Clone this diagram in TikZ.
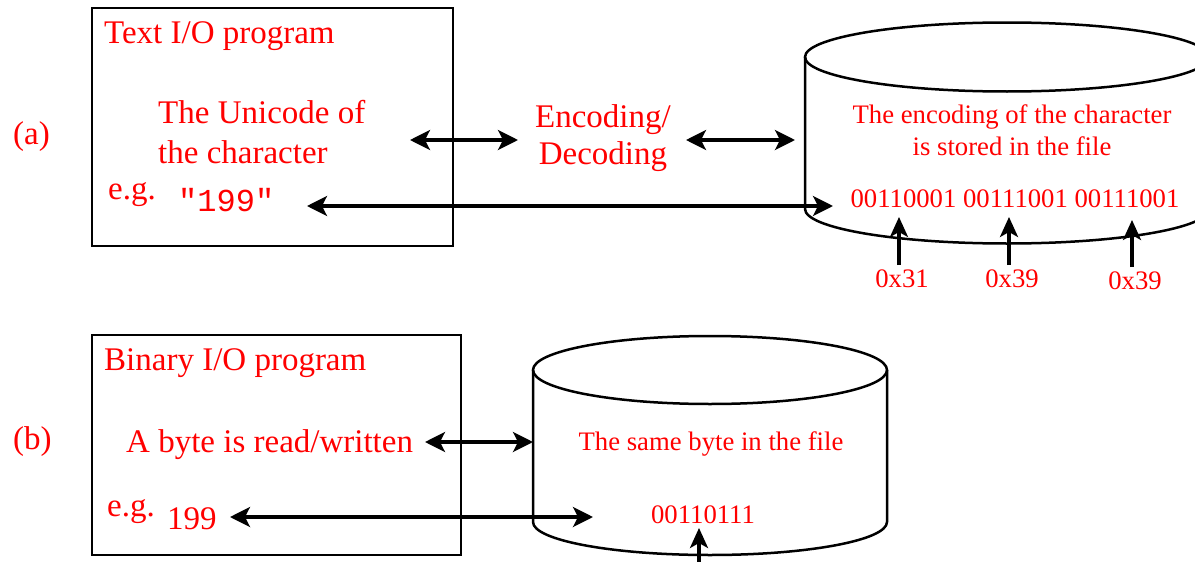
\documentclass[tikz,border=0pt]{standalone}
\usepackage{fontspec}
\setmainfont{Liberation Serif}
\setmonofont{Liberation Mono}
\usepackage{xcolor}
\usetikzlibrary{arrows.meta, positioning}

\tikzset{
  big/.style={text=red, inner sep=0pt, font=\fontsize{33}{40}\selectfont},
  small/.style={text=red, inner sep=0pt, font=\fontsize{26.7}{32}\selectfont},
  prog/.style={draw, line width=2.5pt, inner sep=0pt},
  cyl/.style={line width=2.5pt},
  both/.style={line width=3.2pt, {Stealth[length=20pt,width=20pt,inset=5pt]}-{Stealth[length=20pt,width=20pt,inset=5pt]}},
  up/.style={line width=3.2pt, -{Stealth[length=20pt,width=18pt,inset=5pt]}}
}

\begin{document}
\begin{tikzpicture}[x=1pt,y=-1pt]
\useasboundingbox (0,0) rectangle (1195,562);
\clip (0,0) rectangle (1195,562);
% (a) text I/O
\node[prog, minimum width=361pt, minimum height=238pt] (textbox) at (272.5,127) {};
\draw[cyl] (805,57) -- (805,209) arc[start angle=180, end angle=360, x radius=202pt, y radius=34.5pt] -- (1209,57);
\draw[cyl] (1007,57) ellipse[x radius=202pt, y radius=34.5pt];
\node[big, anchor=base west] (labela) at (13,144) {(a)};
\node[big, anchor=base west] (texttitle) at (104,43) {Text I/O program};
\node[big, anchor=base west] (unia) at (158,123) {The Unicode of};
\node[big, anchor=base west] (unib) at (158,163) {the character};
\node[big, anchor=base west] (ega) at (108,199) {e.g.};
\node[text=red, inner sep=0pt, anchor=base west, font=\fontsize{32}{38}\selectfont\ttfamily] (quoted) at (178,211) {"199"};
\node[big, anchor=base] (enca) at (603,127) {Encoding/};
\node[big, anchor=base] (encb) at (603,164) {Decoding};
\node[small, anchor=base] (storeda) at (1012,123) {The encoding of the character};
\node[small, anchor=base] (storedb) at (1012,155) {is stored in the file};
\node[small, anchor=base] (bitsa) at (1015,207) {00110001 00111001 00111001};
\node[small, anchor=base] (hexa) at (902,287) {0x31};
\node[small, anchor=base] (hexb) at (1012,287) {0x39};
\node[small, anchor=base] (hexc) at (1135,289) {0x39};
\coordinate (ua) at (410,140);
\coordinate (ub) at (518,140);
\coordinate (ea) at (686,140);
\coordinate (eb) at (795,140);
\coordinate (qa) at (307,206);
\coordinate (qb) at (833,206);
\draw[both] (ua) -- (ub);
\draw[both] (ea) -- (eb);
\draw[both] (qa) -- (qb);
\draw[up] (hexa.north -| 899,0) ++(0,-4) coordinate (ha) -- (899,217);
\draw[up] (hexb.north -| 1009,0) ++(0,-4) coordinate (hb) -- (1009,217);
\draw[up] (hexc.north -| 1132,0) ++(0,-4) coordinate (hc) -- (1132,220);
% (b) binary I/O
\node[prog, minimum width=369pt, minimum height=220pt] (binbox) at (276.5,445) {};
\draw[cyl] (533,370) -- (533,522) arc[start angle=180, end angle=360, x radius=177pt, y radius=33pt] -- (887,370);
\draw[cyl] (710,370) ellipse[x radius=177pt, y radius=34pt];
\node[big, anchor=base west] (labelb) at (13,449) {(b)};
\node[big, anchor=base west] (bintitle) at (104,370) {Binary I/O program};
\node[big, anchor=base west] (rw) at (126,452) {A byte is read/written};
\node[big, anchor=base west] (egb) at (107,516) {e.g.};
\node[big, anchor=base west] (plain) at (167,529) {199};
\node[small, anchor=base] (same) at (711,450) {The same byte in the file};
\node[small, anchor=base] (bitsb) at (703,523) {00110111};
\coordinate (ra) at (425,442);
\coordinate (rb) at (533,442);
\coordinate (pa) at (230,517);
\coordinate (pb) at (593,517);
\coordinate (bb) at (699,575);
\draw[both] (ra) -- (rb);
\draw[both] (pa) -- (pb);
\draw[up] (bb) -- (699,528);
\end{tikzpicture}
\end{document}
